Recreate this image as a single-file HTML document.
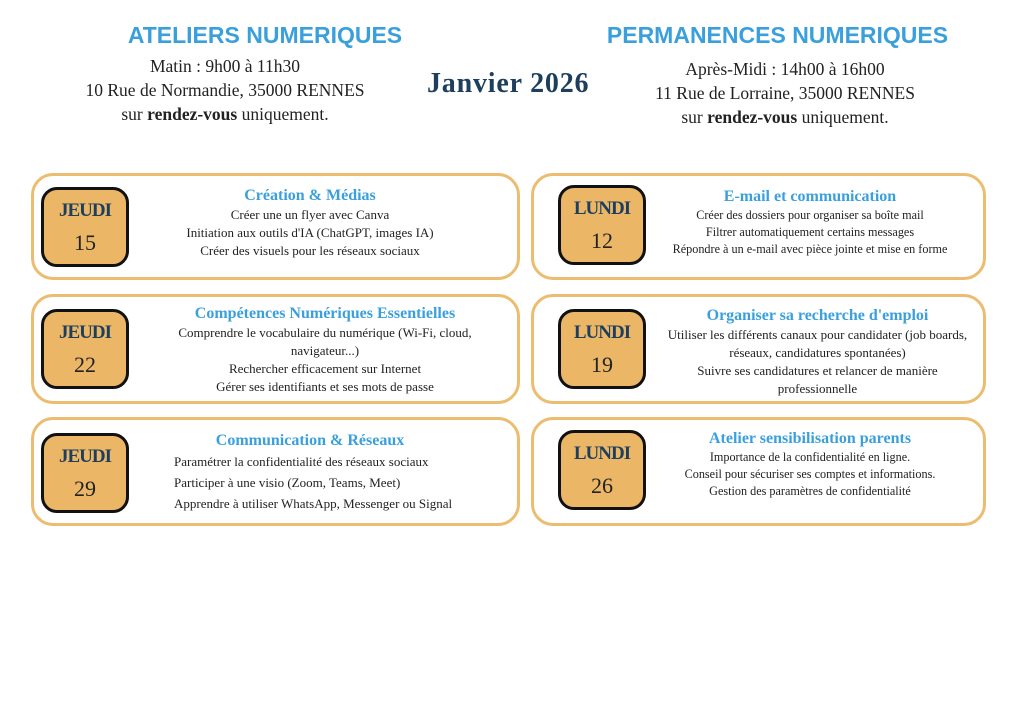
<!DOCTYPE html>
<html><head><meta charset="utf-8"><style>
body{margin:0;width:1024px;height:724px;background:#fff;position:relative;font-family:"Liberation Serif",serif;color:#222;overflow:hidden}
.a{position:absolute}
.h{color:#3aa0dc;font-family:"Liberation Sans",sans-serif;font-weight:bold;font-size:23px;text-align:center}
.c{text-align:center}
.card{position:absolute;border:3px solid #ecbd70;border-radius:22px;box-sizing:border-box;background:#fff}
.d{position:absolute;width:88px;height:80px;background:#ebb767;border:3px solid #111;border-radius:16px;box-sizing:border-box;text-align:center}
.d b{display:block;font-family:"Liberation Serif",serif;color:#1d3e5c;font-size:19px;margin-top:10px;letter-spacing:-1px}
.d span{display:block;font-size:22px;margin-top:8px;color:#222}
.t{position:absolute;text-align:center;font-size:13px;line-height:18px}
.t .tt{color:#3aa0dc;font-weight:bold;font-size:16px;line-height:20px}
</style></head><body>
<div class="a h" style="left:90px;top:22px;width:350px">ATELIERS NUMERIQUES</div>
<div class="a c" style="left:45px;top:54px;width:360px;font-size:17.5px;line-height:24px">Matin : 9h00 à 11h30<br>10 Rue de Normandie, 35000 RENNES<br>sur <b>rendez-vous</b> uniquement.</div>
<div class="a" style="left:427px;top:68px;font-size:28px;font-weight:bold;color:#1d3e5c;letter-spacing:0.8px">Janvier 2026</div>
<div class="a h" style="left:580px;top:22px;width:395px">PERMANENCES NUMERIQUES</div>
<div class="a c" style="left:605px;top:57px;width:360px;font-size:17.5px;line-height:24px">Après-Midi : 14h00 à 16h00<br>11 Rue de Lorraine, 35000 RENNES<br>sur <b>rendez-vous</b> uniquement.</div>

<div class="card" style="left:31px;top:173px;width:489px;height:107px"></div>
<div class="d" style="left:41px;top:187px"><b>JEUDI</b><span>15</span></div>
<div class="t" style="left:140px;top:186px;width:340px"><div class="tt">Création &amp; Médias</div>Créer une un flyer avec Canva<br>Initiation aux outils d'IA (ChatGPT, images IA)<br>Créer des visuels pour les réseaux sociaux</div>

<div class="card" style="left:31px;top:294px;width:489px;height:110px"></div>
<div class="d" style="left:41px;top:309px"><b>JEUDI</b><span>22</span></div>
<div class="t" style="left:140px;top:304px;width:370px"><div class="tt">Compétences Numériques Essentielles</div>Comprendre le vocabulaire du numérique (Wi-Fi, cloud,<br>navigateur...)<br>Rechercher efficacement sur Internet<br>Gérer ses identifiants et ses mots de passe</div>

<div class="card" style="left:31px;top:417px;width:489px;height:109px"></div>
<div class="d" style="left:41px;top:433px"><b>JEUDI</b><span>29</span></div>
<div class="t" style="left:150px;top:431px;width:320px;line-height:21px"><div class="tt">Communication &amp; Réseaux</div><div style="text-align:left;padding-left:24px;white-space:nowrap">Paramétrer la confidentialité des réseaux sociaux<br>Participer à une visio (Zoom, Teams, Meet)<br>Apprendre à utiliser WhatsApp, Messenger ou Signal</div></div>

<div class="card" style="left:531px;top:173px;width:455px;height:107px"></div>
<div class="d" style="left:558px;top:185px"><b>LUNDI</b><span>12</span></div>
<div class="t" style="left:645px;top:187px;width:330px;font-size:12.2px;line-height:17px"><div class="tt">E-mail et communication</div>Créer des dossiers pour organiser sa boîte mail<br>Filtrer automatiquement certains messages<br>Répondre à un e-mail avec pièce jointe et mise en forme</div>

<div class="card" style="left:531px;top:294px;width:455px;height:110px"></div>
<div class="d" style="left:558px;top:309px"><b>LUNDI</b><span>19</span></div>
<div class="t" style="left:650px;top:306px;width:335px"><div class="tt">Organiser sa recherche d'emploi</div>Utiliser les différents canaux pour candidater (job boards,<br>réseaux, candidatures spontanées)<br>Suivre ses candidatures et relancer de manière<br>professionnelle</div>

<div class="card" style="left:531px;top:417px;width:455px;height:109px"></div>
<div class="d" style="left:558px;top:430px"><b>LUNDI</b><span>26</span></div>
<div class="t" style="left:650px;top:429px;width:320px;font-size:12.2px;line-height:17px"><div class="tt">Atelier sensibilisation parents</div>Importance de la confidentialité en ligne.<br>Conseil pour sécuriser ses comptes et informations.<br>Gestion des paramètres de confidentialité</div>
</body></html>
